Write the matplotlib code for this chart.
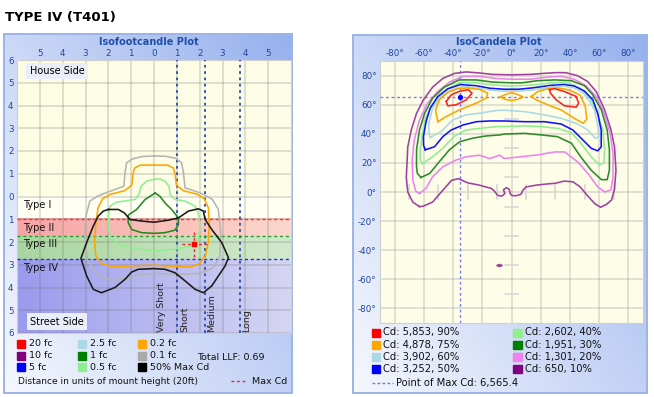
import numpy as np
import matplotlib
matplotlib.use("Agg")
import matplotlib.pyplot as plt
from matplotlib.patches import Rectangle
from matplotlib.colors import to_rgb

plt.rcParams['axes.unicode_minus'] = False
plt.rcParams['font.family'] = 'DejaVu Sans'

W, H = 654, 397

# ---------------- isofootcandle plot (units of mount height) ----------------
# positive y = house side, negative y = street side
fc_01 = [(0.0, 1.78), (-0.5, 1.76), (-0.95, 1.65), (-1.2, 1.48), (-1.27, 1.04), (-1.32, 0.45),
         (-1.93, 0.23), (-2.44, 0.03), (-2.81, -0.2), (-2.98, -0.86), (-3.03, -1.89), (-2.92, -2.76),
         (-2.51, -3.42), (-1.93, -3.67), (-1.2, -3.61), (-0.61, -3.42), (0.12, -3.38), (1.14, -3.42),
         (2.02, -3.38), (2.6, -3.13), (2.89, -2.62), (2.92, -1.59), (2.82, -0.57), (2.55, -0.12),
         (2.02, 0.16), (1.36, 0.38), (1.29, 1.04), (1.21, 1.48), (0.95, 1.68), (0.5, 1.77), (0.0, 1.78)]
fc_02 = [(0.0, 1.38), (-0.6, 1.38), (-0.85, 1.25), (-0.92, 1.0), (-0.97, 0.5), (-1.3, 0.25),
         (-1.9, 0.1), (-2.25, -0.1), (-2.45, -0.5), (-2.55, -1.2), (-2.6, -2.0), (-2.55, -2.6),
         (-2.3, -2.95), (-1.8, -3.1), (-1.0, -3.05), (0.0, -3.02), (0.9, -3.08), (1.6, -3.1),
         (2.0, -2.95), (2.25, -2.6), (2.38, -2.0), (2.42, -1.2), (2.38, -0.5), (2.2, -0.1),
         (1.9, 0.1), (1.3, 0.25), (0.98, 0.5), (0.92, 1.0), (0.85, 1.25), (0.6, 1.38), (0.0, 1.38)]
fc_05 = [(0.04, 0.77), (-0.32, 0.67), (-0.57, 0.45), (-0.66, 0.09), (-0.83, -0.13), (-1.64, -0.25),
         (-1.93, -0.42), (-2.0, -0.86), (-2.0, -1.45), (-1.86, -1.89), (-1.42, -2.18), (-0.69, -2.32),
         (0.0, -2.4), (0.92, -2.32), (1.65, -2.18), (1.94, -1.89), (2.02, -1.3), (1.94, -0.72),
         (1.8, -0.42), (1.36, -0.2), (0.92, -0.13), (0.7, 0.09), (0.66, 0.45), (0.48, 0.67),
         (0.26, 0.77), (0.04, 0.77)]
fc_1 = [(0.05, 0.15), (-0.39, -0.13), (-0.76, -0.57), (-1.13, -0.82), (-1.13, -1.15), (-0.98, -1.45),
        (-0.54, -1.59), (0.0, -1.62), (0.48, -1.59), (0.92, -1.48), (1.07, -1.23), (1.07, -0.94),
        (0.77, -0.57), (0.48, -0.28), (0.26, 0.01), (0.05, 0.15)]
half_max_cd = [(-2.0, -0.57), (-1.56, -0.57), (-1.3, -0.72), (-1.05, -1.01), (-0.54, -1.08), (0.0, -1.13),
               (0.63, -1.04), (1.07, -0.94), (1.51, -0.64), (1.94, -0.54), (2.16, -0.64), (2.24, -1.01),
               (2.53, -1.45), (2.97, -2.03), (3.26, -2.69), (3.11, -3.06), (2.82, -3.49), (2.53, -3.93),
               (2.16, -4.23), (1.8, -4.08), (1.36, -3.71), (0.92, -3.35), (0.48, -3.2), (0.0, -3.17),
               (-0.69, -3.2), (-0.98, -3.32), (-1.27, -3.64), (-1.71, -4.0), (-2.3, -4.23), (-2.66, -4.08),
               (-2.95, -3.49), (-3.2, -2.72), (-2.95, -2.03), (-2.66, -1.3), (-2.44, -0.86), (-2.22, -0.64),
               (-2.0, -0.57)]
max_cd_point = (1.77, -2.1)

fc_curves = [(fc_01, '#b4b4b4'), (fc_02, '#ffa500'), (fc_05, '#90ee90'), (fc_1, '#1f8a1f'),
             (half_max_cd, '#1a1a1a')]

type_edges = [0, -1.0, -1.75, -2.75, -6]
type_names = ['Type I', 'Type II', 'Type III', 'Type IV']
type_label_y = [-0.39, -1.4, -2.1, -3.16]
lateral_lines = [1.0, 2.25, 3.75]
lateral_names = ['Very Short', 'Short', 'Medium', 'Long']
lateral_label_x = [0.35, 1.36, 2.54, 4.07]

fc_legend = [('20 fc', '#ff0000'), ('10 fc', '#800080'), ('5 fc', '#0000ff'),
             ('2.5 fc', '#add8e6'), ('1 fc', '#008000'), ('0.5 fc', '#90ee90'),
             ('0.2 fc', '#ffa500'), ('0.1 fc', '#a9a9a9'), ('50% Max Cd', '#000000')]

# ---------------- isocandela plot (degrees) ----------------
cd_90_a = [(-44.7, 62.2), (-41.3, 66.7), (-35.6, 69.2), (-29.5, 70.3), (-27.0, 67.9), (-31.0, 63.3),
           (-37.9, 59.9), (-43.6, 59.2), (-44.7, 62.2)]
cd_90_b = [(26.0, 70.3), (29.4, 71.0), (36.3, 69.0), (44.3, 65.6), (45.9, 61.0), (44.3, 58.3),
           (36.3, 59.2), (30.6, 63.3), (26.7, 67.9), (26.0, 70.3)]
cd_75_a = [(-50.4, 48.3), (-52.0, 56.4), (-49.3, 63.3), (-43.6, 68.5), (-36.7, 71.0), (-30.0, 71.5),
           (-22.0, 70.5), (-16.2, 67.9), (-17.3, 64.5), (-24.2, 61.0), (-35.6, 56.4), (-44.7, 51.8),
           (-50.4, 48.3)]
cd_75_b = [(13.5, 65.6), (18.0, 69.0), (25.0, 71.0), (32.0, 71.5), (40.0, 70.0), (47.0, 66.5),
           (50.5, 59.0), (51.5, 50.0), (49.0, 47.2), (43.0, 50.6), (34.0, 56.4), (25.0, 59.8),
           (17.0, 63.3), (13.5, 65.6)]
cd_75_c = [(-8.0, 65.3), (-4.0, 67.0), (0.0, 68.3), (4.0, 67.0), (8.0, 65.3), (4.0, 63.6),
           (0.0, 62.8), (-4.0, 63.6), (-8.0, 65.3)]
cd_60 = [(-55.5, 37.5), (-56.5, 40.0), (-56.6, 47.2), (-54.0, 57.5), (-48.5, 65.5), (-41.3, 70.0),
         (-33.0, 72.5), (-24.0, 71.8), (-15.0, 70.0), (-5.0, 69.2), (5.0, 69.2), (15.0, 70.2),
         (27.0, 72.2), (36.0, 72.7), (43.0, 71.5), (49.0, 68.0), (53.0, 63.0), (56.8, 56.4),
         (59.1, 45.0), (59.6, 38.0), (57.3, 36.8), (52.3, 42.6), (44.3, 47.2), (34.0, 50.6),
         (22.6, 53.0), (8.9, 55.2), (-5.0, 56.2), (-10.5, 56.0), (-21.9, 54.1), (-31.0, 53.0),
         (-40.2, 49.5), (-48.2, 41.5), (-55.5, 37.5)]
cd_50 = [(-59.0, 29.0), (-60.2, 32.0), (-60.3, 38.0), (-58.5, 48.3), (-55.7, 57.5), (-50.5, 65.5),
         (-43.5, 71.0), (-35.0, 73.8), (-24.0, 73.0), (-15.0, 71.3), (-5.0, 70.6), (5.0, 70.6),
         (15.0, 71.6), (27.0, 73.3), (36.0, 73.8), (43.0, 72.8), (50.0, 69.3), (55.7, 63.3),
         (59.0, 54.0), (61.4, 42.6), (61.4, 31.0), (59.0, 28.3), (54.6, 30.0), (48.9, 35.7),
         (42.0, 42.6), (34.0, 46.7), (22.6, 48.3), (9.0, 48.3), (-5.0, 48.8), (-15.0, 48.8),
         (-24.0, 48.3), (-33.3, 46.0), (-41.3, 42.6), (-47.0, 38.0), (-52.7, 31.1), (-59.0, 29.0)]
cd_40 = [(-61.0, 19.5), (-62.5, 22.0), (-62.5, 29.0), (-61.0, 40.3), (-58.5, 51.8), (-52.5, 62.0),
         (-46.0, 69.0), (-36.0, 75.0), (-24.0, 75.0), (-12.5, 73.5), (0.0, 72.8), (15.5, 73.5),
         (27.0, 75.0), (38.5, 75.0), (47.5, 71.0), (54.0, 64.0), (59.0, 54.0), (62.5, 42.5),
         (63.7, 29.0), (63.2, 20.0), (60.3, 18.5), (54.5, 24.2), (47.5, 33.5), (41.0, 40.8),
         (31.7, 43.7), (20.3, 44.9), (9.0, 45.4), (-5.0, 45.0), (-10.5, 44.9), (-22.0, 43.7),
         (-31.0, 42.6), (-39.0, 38.5), (-47.0, 30.0), (-54.0, 24.2), (-61.0, 19.5)]
cd_30 = [(-62.0, 10.0), (-64.5, 13.0), (-65.0, 17.5), (-65.0, 29.0), (-63.0, 42.5), (-59.5, 54.0),
         (-54.0, 64.5), (-46.0, 72.0), (-36.0, 77.0), (-24.0, 77.0), (-13.0, 75.5), (0.0, 75.0),
         (7.0, 75.0), (18.0, 76.5), (29.5, 77.0), (41.0, 76.5), (50.0, 73.0), (55.5, 67.0),
         (61.5, 56.5), (65.5, 42.5), (67.0, 29.0), (67.0, 15.0), (65.5, 8.5), (61.5, 8.5),
         (54.5, 15.0), (47.5, 24.0), (41.0, 33.5), (31.5, 38.0), (20.5, 39.2), (9.0, 40.3),
         (-5.0, 39.8), (-8.0, 39.2), (-17.5, 38.5), (-26.5, 37.0), (-35.5, 34.5), (-42.5, 29.0),
         (-50.5, 19.5), (-56.0, 12.7), (-62.0, 10.0)]
cd_20 = [(-63.0, -1.0), (-65.5, 0.5), (-67.5, 8.0), (-68.0, 22.0), (-66.5, 36.0), (-63.0, 49.5),
         (-57.5, 61.0), (-50.5, 69.0), (-42.5, 75.5), (-33.0, 79.5), (-22.0, 79.5), (-10.5, 78.0),
         (0.0, 77.5), (13.5, 77.5), (25.0, 79.0), (34.0, 79.5), (43.0, 77.5), (51.0, 73.0),
         (58.0, 65.5), (63.5, 54.0), (67.5, 40.5), (69.5, 26.5), (69.5, 10.5), (68.0, 1.5),
         (64.0, 0.0), (59.0, 3.5), (52.5, 12.5), (45.5, 20.5), (36.5, 27.5), (29.5, 27.5),
         (18.0, 25.5), (6.5, 24.2), (-5.0, 23.0), (-8.0, 25.3), (-15.0, 23.0), (-22.0, 25.3),
         (-31.0, 24.2), (-38.0, 22.0), (-47.0, 17.3), (-54.0, 10.5), (-58.5, 2.5), (-63.0, -1.0)]
cd_10 = [(-63.0, -10.0), (-67.5, -7.0), (-71.0, 0.0), (-72.0, 10.0), (-71.5, 20.0), (-71.0, 31.0),
         (-68.5, 43.0), (-65.0, 54.0), (-60.5, 63.0), (-54.0, 72.0), (-47.0, 78.0), (-39.0, 81.5),
         (-31.0, 82.5), (-22.0, 81.8), (-13.0, 80.8), (0.0, 80.5), (13.0, 80.8), (22.0, 81.5),
         (30.0, 82.0), (37.0, 82.0), (45.0, 80.0), (52.0, 76.0), (58.0, 69.0), (63.5, 57.0),
         (68.0, 43.0), (70.5, 31.0), (71.5, 15.0), (70.5, 2.0), (68.5, -5.5), (65.0, -8.5),
         (61.0, -10.5), (57.0, -8.0), (52.0, -2.5), (47.0, 3.5), (42.0, 7.0), (36.0, 7.5),
         (30.0, 6.0), (24.0, 5.5), (17.0, 4.7), (10.0, 3.5), (8.0, 1.5), (6.5, -1.5), (3.5, -2.5),
         (0.5, -2.5), (-1.0, -1.0), (-1.5, 1.8), (-3.5, 3.0), (-5.5, 1.5), (-4.5, -1.0),
         (-6.5, -2.8), (-9.5, -2.3), (-12.0, 1.0), (-14.0, 2.5), (-22.0, 4.7), (-30.0, 6.3),
         (-36.5, 9.2), (-41.0, 8.0), (-47.0, 1.2), (-54.0, -6.9), (-60.5, -9.8), (-63.0, -10.0)]
cd_10_spot = [(-9.6, -50.5), (-8.0, -49.8), (-6.4, -50.5), (-8.0, -51.2), (-9.6, -50.5)]
max_cd_angle = (-35.5, 65.5)

cd_curves = [(cd_10, '#a040a0'), (cd_10_spot, '#a040a0'), (cd_20, '#ee82ee'), (cd_30, '#2a8a2a'),
             (cd_40, '#90ee90'), (cd_50, '#1010ff'), (cd_60, '#add8e6'), (cd_75_a, '#ffa500'),
             (cd_75_b, '#ffa500'), (cd_75_c, '#ffa500'), (cd_90_a, '#ff2020'), (cd_90_b, '#ff2020')]

cd_legend = [('Cd: 5,853, 90%', '#ff0000'), ('Cd: 4,878, 75%', '#ffa500'),
             ('Cd: 3,902, 60%', '#add8e6'), ('Cd: 3,252, 50%', '#0000ff'),
             ('Cd: 2,602, 40%', '#90ee90'), ('Cd: 1,951, 30%', '#008000'),
             ('Cd: 1,301, 20%', '#ee82ee'), ('Cd: 650, 10%', '#800080')]


def pix_axes(fig, x0, y0, x1, y1):
    return fig.add_axes([x0 / W, 1 - y1 / H, (x1 - x0) / W, (y1 - y0) / H])


def hgrad(ax, extent, c_left, c_right):
    a = np.linspace(0, 1, 256)
    c0, c1 = np.array(to_rgb(c_left)), np.array(to_rgb(c_right))
    img = c0[None, None, :] * (1 - a)[None, :, None] + c1[None, None, :] * a[None, :, None]
    ax.imshow(img, extent=extent, aspect='auto', zorder=0, interpolation='bilinear')


def panel(ax, x0, y0, x1, y1):
    u = np.linspace(0, 1, 200)[None, :]
    v = np.linspace(1, 0, 200)[:, None]
    t = 0.55 * u + 0.45 * v
    c0, c1 = np.array(to_rgb('#f6f8fd')), np.array(to_rgb('#97b1ee'))
    img = c0 * (1 - t[..., None]) + c1 * t[..., None]
    ax.imshow(img, extent=(x0, x1, y1, y0), aspect='auto', zorder=0, interpolation='bilinear')
    ax.add_patch(Rectangle((x0, y0), x1 - x0, y1 - y0, fill=False, ec='#9cb4e6', lw=1.4, zorder=1))


fig = plt.figure(figsize=(W / 100, H / 100), dpi=100)
bg = fig.add_axes([0, 0, 1, 1])
bg.set_xlim(0, W)
bg.set_ylim(H, 0)
bg.axis('off')

panel(bg, 4, 34, 292, 393)
panel(bg, 353, 35, 647, 393)
bg.set_xlim(0, W)
bg.set_ylim(H, 0)

bg.text(5, 18, 'TYPE IV (T401)', fontsize=9.5, fontweight='bold', va='center', ha='left')
bg.text(149, 42, 'Isofootcandle Plot', fontsize=7, fontweight='bold', color='#1f4fa8',
        ha='center', va='center')
bg.text(499, 42, 'IsoCandela Plot', fontsize=7, fontweight='bold', color='#1f4fa8',
        ha='center', va='center')

# left legend
rows = [344, 355.7, 367.3]
cols = [17.3, 77.7, 138.3]
for i, (lab, col) in enumerate(fc_legend):
    cx, cy = cols[i // 3], rows[i % 3]
    bg.add_patch(Rectangle((cx, cy - 4), 8, 8, color=col, zorder=2))
    bg.text(cx + 12, cy, lab, fontsize=6.8, va='center', ha='left', color='#111111')
bg.text(197, 357, 'Total LLF: 0.69', fontsize=6.8, va='center', ha='left', color='#111111')
bg.text(18, 381, 'Distance in units of mount height (20ft)', fontsize=6.5, va='center', ha='left',
        color='#111111')
bg.plot([231, 247], [381, 381], color='#ff2020', lw=1, ls=(0, (2, 2)))
bg.text(251.5, 381, 'Max Cd', fontsize=6.8, va='center', ha='left', color='#111111')

# right legend
rows_r = [332.5, 344.7, 356.9, 369.1]
cols_r = [371.7, 513.3]
for i, (lab, col) in enumerate(cd_legend):
    cx, cy = cols_r[i // 4], rows_r[i % 4]
    bg.add_patch(Rectangle((cx, cy - 4), 8.3, 8.3, color=col, zorder=2))
    bg.text(cx + 11.5, cy, lab, fontsize=7.2, va='center', ha='left', color='#111111')
bg.plot([372, 393], [382.7, 382.7], color='#7070ff', lw=1, ls=(0, (2, 1.6)))
bg.text(396.5, 382.7, 'Point of Max Cd: 6,565.4', fontsize=7.2, va='center', ha='left',
        color='#111111')

tick_col = '#2146a0'

# ---------------- left plot ----------------
ax1 = pix_axes(fig, 17, 60, 291, 333)
hgrad(ax1, (-6, 6, 0, 6), '#fdfde4', '#fefee8')
hgrad(ax1, (-6, 6, type_edges[1], type_edges[0]), '#fffff4', '#fffff2')
hgrad(ax1, (-6, 6, type_edges[2], type_edges[1]), '#f6a4a4', '#fcd8cc')
hgrad(ax1, (-6, 6, type_edges[3], type_edges[2]), '#a9d6a0', '#d2e9cc')
hgrad(ax1, (-6, 6, type_edges[4], type_edges[3]), '#9a9aee', '#d6d6f3')

ax1.set_axisbelow(True)
ax1.grid(True, color='#707070', alpha=0.28, lw=1.1)
for x in lateral_lines:
    ax1.axvline(x, color='#2a4aa8', lw=1.3, ls=(0, (1.5, 2)), zorder=3)
for y, c in zip(type_edges[1:4], ['#ff3030', '#2f9a2f', '#2c2cf0']):
    ax1.axhline(y, color=c, lw=1.0, ls=(0, (2.2, 2)), zorder=3)

for pts, col in fc_curves:
    xs, ys = zip(*pts)
    ax1.plot(xs, ys, color=col, lw=1.15, zorder=4)

mx, my = max_cd_point
ax1.plot([mx - 0.55, mx + 0.55], [my, my], color='#ff2020', lw=1, ls=(0, (2, 2)), zorder=5)
ax1.plot([mx, mx], [my - 0.58, my + 0.58], color='#ff2020', lw=1, ls=(0, (2, 2)), zorder=5)
ax1.plot(mx, my, 's', color='#ff0000', ms=3.2, zorder=6)

for name, y in zip(type_names, type_label_y):
    ax1.text(-5.72, y, name, fontsize=7, va='center', ha='left', color='#111111', zorder=6)
for name, x in zip(lateral_names, lateral_label_x):
    ax1.text(x, -5.95, name, fontsize=6.8, rotation=90, va='bottom', ha='center',
             color='#222222', zorder=6)

box = dict(boxstyle='square,pad=0.35', fc='#e9eef9', ec='none')
ax1.text(-4.25, 5.52, 'House Side', fontsize=7, ha='center', va='center', bbox=box, zorder=6)
ax1.text(-4.25, -5.5, 'Street Side', fontsize=7, ha='center', va='center', bbox=box, zorder=6)

ax1.set_xlim(-6, 6)
ax1.set_ylim(-6, 6)
ax1.set_xticks(range(-5, 6))
ax1.set_xticklabels([str(abs(v)) for v in range(-5, 6)])
ax1.set_yticks(range(-6, 7))
ax1.set_yticklabels([str(abs(v)) for v in range(-6, 7)])
ax1.xaxis.tick_top()
ax1.tick_params(length=0, labelsize=6.3, labelcolor=tick_col)
ax1.tick_params(axis='x', pad=1.5)
ax1.tick_params(axis='y', pad=2.5)
for s in ax1.spines.values():
    s.set_color('#cfcfcf')

# ---------------- right plot ----------------
ax2 = pix_axes(fig, 380, 61, 643, 323)
ax2.set_facecolor('#fdfde8')
ax2.set_axisbelow(True)
ax2.grid(True, color='#707070', alpha=0.25, lw=1.1)
for v in [-70, -50, -30, -10, 10, 30, 50, 70]:
    ax2.plot([-4.5, 4.5], [v, v], color='#d4d4d4', lw=1.1, zorder=1)
    ax2.plot([v, v], [-4.5, 4.5], color='#d4d4d4', lw=1.1, zorder=1)

ax2.axhline(max_cd_angle[1], color='#7a7aff', lw=1, ls=(0, (2, 2)), zorder=3)
ax2.axvline(max_cd_angle[0], color='#7a7aff', lw=1, ls=(0, (2, 2)), zorder=3)

for pts, col in cd_curves:
    xs, ys = zip(*pts)
    ax2.plot(xs, ys, color=col, lw=1.15, zorder=4)
ax2.plot(*max_cd_angle, 'o', color='#0000ff', ms=2.8, zorder=6)

ax2.set_xlim(-90, 90)
ax2.set_ylim(-90, 90)
ticks = list(range(-80, 81, 20))
ax2.set_xticks(ticks)
ax2.set_xticklabels([f'{v}°' for v in ticks])
ax2.set_yticks(ticks)
ax2.set_yticklabels([f'{v}°' for v in ticks])
ax2.xaxis.tick_top()
ax2.tick_params(length=0, labelsize=6.3, labelcolor=tick_col)
ax2.tick_params(axis='x', pad=2)
ax2.tick_params(axis='y', pad=2.5)
for s in ax2.spines.values():
    s.set_color('#cfcfcf')

fig.savefig('out.png', dpi=100)
